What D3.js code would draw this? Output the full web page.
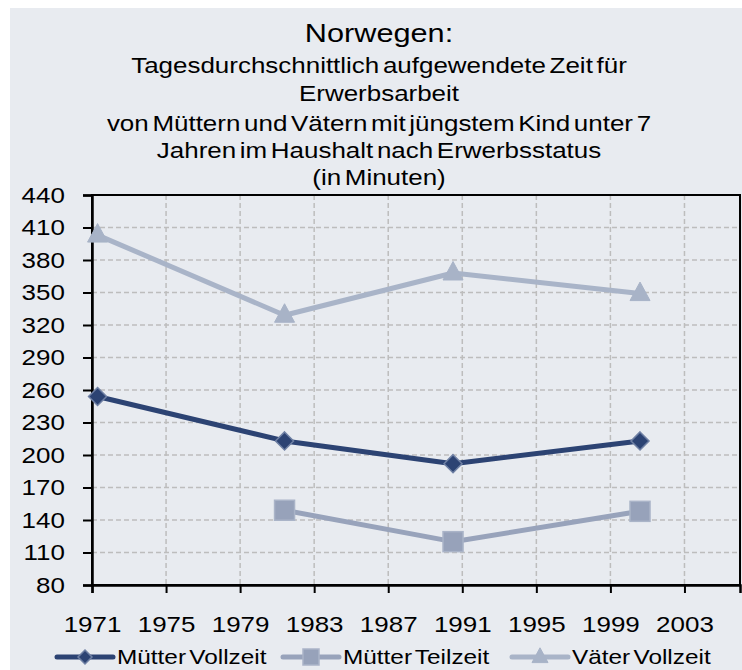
<!DOCTYPE html>
<html>
<head>
<meta charset="utf-8">
<script src="https://cdn.jsdelivr.net/npm/d3@7"></script>
<style>
  html, body { margin: 0; padding: 0; background: #fff; }
  svg { display: block; font-family: "Liberation Sans", Arial, sans-serif; }
</style>
</head>
<body>
<div class="chart"></div>
<script>
// data
const titleLines = ["Norwegen:", "Tagesdurchschnittlich aufgewendete Zeit für", "Erwerbsarbeit",
  "von Müttern und Vätern mit jüngstem Kind unter 7", "Jahren im Haushalt nach Erwerbsstatus", "(in Minuten)"];
const years = [1971.3, 1981.4, 1990.5, 2000.6];
const muetterVollzeit = [254, 213, 192, 213];
const muetterTeilzeit = [null, 149, 120, 148];
const vaeterVollzeit = [403, 329, 368, 349];
const xTicks = [1971, 1975, 1979, 1983, 1987, 1991, 1995, 1999, 2003];
const yTicks = [80, 110, 140, 170, 200, 230, 260, 290, 320, 350, 380, 410, 440];

const series = [
  {name: "Mütter Vollzeit", values: muetterVollzeit, color: "#2c4373", fill: "#2c4373", stroke: "#6f80a4", shape: "diamond"},
  {name: "Mütter Teilzeit", values: muetterTeilzeit, color: "#98a3bb", fill: "#97a2ba", stroke: "#aab4c8", shape: "square"},
  {name: "Väter Vollzeit", values: vaeterVollzeit, color: "#a9b4c8", fill: "#a8b3c7", stroke: "#a8b3c7", shape: "triangle"}
];

const W = 742, H = 670;
const m = {l: 92, r: 2, t: 195, b: 85};
const stretch = "scale(1.18,1)";

const svg = d3.select(".chart").append("svg").attr("width", W).attr("height", H);
svg.append("rect").attr("x", 10).attr("y", 8).attr("width", W - 10).attr("height", H - 8).attr("fill", "#e8ebf0");

const x = d3.scaleLinear().domain([1971, 2006]).range([m.l, W - m.r]);
const y = d3.scaleLinear().domain([80, 440]).range([H - m.b, m.t]);

// title
const titleY = [42, 73, 101, 131, 158, 185];
const title = svg.append("g").attr("transform", "translate(379,0)");
title.selectAll("text").data(titleLines).join("text")
  .attr("transform", (d, i) => `translate(0,${titleY[i]}) ${stretch}`)
  .attr("text-anchor", "middle")
  .attr("font-size", (d, i) => i === 0 ? 26 : 22)
  .attr("word-spacing", -3)
  .attr("fill", "#000")
  .text(d => d);

// grid
const grid = svg.append("g").attr("stroke", "#bdbdbd").attr("stroke-width", 1.5).attr("stroke-dasharray", "5,3");
grid.selectAll(".gy").data(yTicks.slice(1, -1)).join("line")
  .attr("x1", m.l).attr("x2", W - m.r).attr("y1", d => y(d)).attr("y2", d => y(d));
grid.selectAll(".gx").data(xTicks.slice(1)).join("line")
  .attr("y1", m.t).attr("y2", H - m.b).attr("x1", d => x(d)).attr("x2", d => x(d));

// frame
svg.append("rect").attr("x", m.l).attr("y", m.t).attr("width", W - m.r - m.l).attr("height", H - m.b - m.t)
  .attr("fill", "none").attr("stroke", "#000").attr("stroke-width", 2);

// axes
const yAxis = svg.append("g").attr("transform", `translate(${m.l},0)`)
  .call(d3.axisLeft(y).tickValues(yTicks).tickSize(9).tickPadding(14));
const xAxis = svg.append("g").attr("transform", `translate(0,${H - m.b})`)
  .call(d3.axisBottom(x).tickValues(xTicks).tickFormat(d3.format("d")).tickSize(8).tickPadding(23));
[yAxis, xAxis].forEach(a => {
  a.select(".domain").attr("stroke-width", 2.5);
  a.selectAll(".tick line").attr("stroke-width", 2);
  a.selectAll(".tick text").attr("font-size", 22).attr("fill", "#000")
    .attr("font-family", "Liberation Sans, Arial, sans-serif").attr("transform", stretch);
});

// markers
function marker(sel, s, sz) {
  if (s.shape === "diamond") {
    sel.append("path").attr("d", `M0,${-sz}L${sz},0L0,${sz}L${-sz},0Z`)
      .attr("fill", s.fill).attr("stroke", s.stroke).attr("stroke-width", 1.5);
  } else if (s.shape === "square") {
    sel.append("rect").attr("x", -sz).attr("y", -sz).attr("width", 2 * sz).attr("height", 2 * sz)
      .attr("fill", s.fill).attr("stroke", s.stroke).attr("stroke-width", 1.5);
  } else {
    sel.append("path").attr("d", `M0,${-sz * 1.15}L${sz},${sz * 0.7}L${-sz},${sz * 0.7}Z`)
      .attr("fill", s.fill).attr("stroke", s.stroke).attr("stroke-width", 1);
  }
}
const sizes = {diamond: 9, square: 10, triangle: 10};

const line = d3.line().defined(d => d.v != null).x(d => x(d.t)).y(d => y(d.v));
series.forEach(s => {
  const pts = years.map((t, i) => ({t, v: s.values[i]}));
  svg.append("path").datum(pts).attr("d", line).attr("fill", "none")
    .attr("stroke", s.color).attr("stroke-width", 5).attr("stroke-linejoin", "round");
  svg.append("g").selectAll("g").data(pts.filter(d => d.v != null)).join("g")
    .attr("transform", d => `translate(${x(d.t)},${y(d.v)})`)
    .each(function() { marker(d3.select(this), s, sizes[s.shape]); });
});

// legend
const legendX = [57, 283, 512];
const leg = svg.append("g").attr("transform", "translate(0,657)");
series.forEach((s, i) => {
  const g = leg.append("g").attr("transform", `translate(${legendX[i]},0)`);
  g.append("line").attr("x1", 0).attr("x2", 56).attr("stroke", s.color).attr("stroke-width", 5).attr("stroke-linecap", "round");
  marker(g.append("g").attr("transform", "translate(28,0)"), s, s.shape === "diamond" ? 7 : 8);
  g.append("text").attr("transform", `translate(60,7) scale(1.16,1)`).attr("font-size", 21).attr("word-spacing", -3).text(s.name);
});
</script>
</body>
</html>
